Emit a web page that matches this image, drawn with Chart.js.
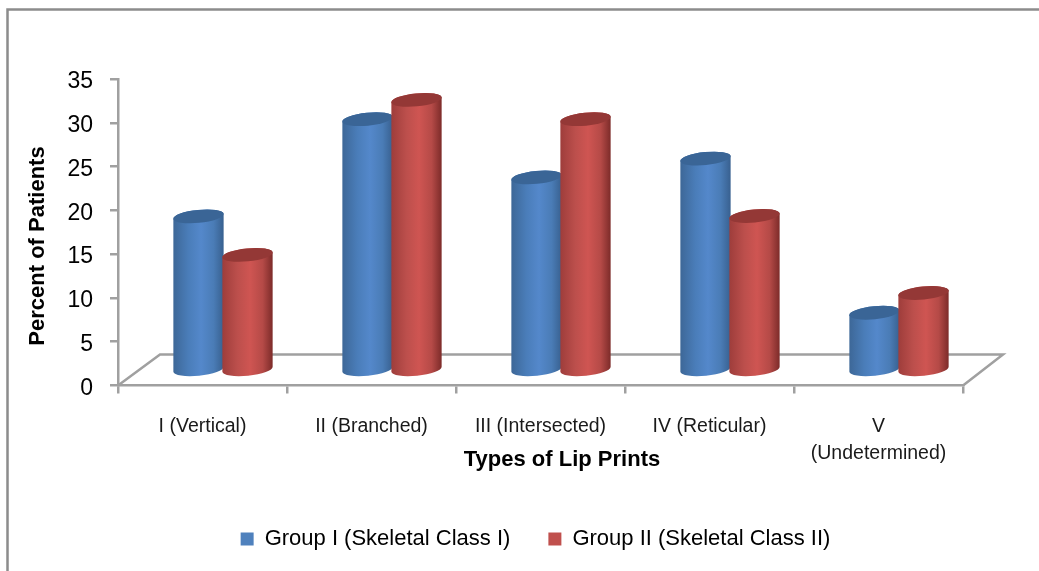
<!DOCTYPE html>
<html>
<head>
<meta charset="utf-8">
<title>Types of Lip Prints</title>
<script src="https://cdn.jsdelivr.net/npm/chart.js@4/dist/chart.umd.min.js"></script>
<style>
  html, body { margin: 0; padding: 0; background: #fff; overflow: hidden; }
  #wrap { width: 1039px; height: 571px; }
</style>
</head>
<body>
<div id="wrap"><canvas id="lipChart" width="1039" height="571"></canvas></div>
<script>
const lipTypes = ['I (Vertical)', 'II (Branched)', 'III (Intersected)', 'IV (Reticular)', ['V', '(Undetermined)']];
const groupOne = [17.6, 28.7, 22.05, 24.2, 6.6];
const groupTwo = [13.2, 30.9, 28.7, 17.65, 8.85];
const yTicks = [0, 5, 10, 15, 20, 25, 30, 35];
const xTitle = 'Types of Lip Prints';
const yTitle = 'Percent of Patients';
const groupNames = ['Group I (Skeletal Class I)', 'Group II (Skeletal Class II)'];

const AXIS_GREY = '#a0a0a0';
const FONT = '"Liberation Sans", Arial, sans-serif';

// how far the floor runs back, and where the columns stand on it
const DEPTH = { x: 42, y: -31 };
const MID = { x: 20.5, y: -15 };

const shades = [
  { stops: ['#3d6797', '#4a7db9', '#5488cb', '#4a7cb6', '#38608f'], top: '#3a6596' },
  { stops: ['#9e3d3b', '#bc4f4c', '#cf5552', '#b54a47', '#7c2b29'], top: '#943836' }
];
const stopAt = [0, 0.3, 0.55, 0.8, 1];

function drawCylinder(ctx, cx, topY, baseY, w, shade) {
  const rx = w / 2, ry = 6.5, tilt = -0.1;
  const g = ctx.createLinearGradient(cx - rx, 0, cx + rx, 0);
  shade.stops.forEach((c, i) => g.addColorStop(stopAt[i], c));

  ctx.beginPath();
  ctx.ellipse(cx, baseY, rx, ry, tilt, 0, Math.PI);
  ctx.ellipse(cx, topY, rx, ry, tilt, Math.PI, Math.PI * 2);
  ctx.closePath();
  ctx.fillStyle = g;
  ctx.fill();

  ctx.beginPath();
  ctx.ellipse(cx, topY, rx, ry, tilt, 0, Math.PI * 2);
  ctx.fillStyle = shade.top;
  ctx.fill();
}

const frameAndFloor = {
  id: 'frameAndFloor',
  afterLayout(chart) {
    // legend sits a bit right of centre, under the plot
    const lg = chart.legend;
    const h = lg.bottom - lg.top;
    lg.left += 54; lg.right += 54;
    lg.top = 490; lg.bottom = lg.top + h;

    // value labels hang slightly below their tick marks
    chart.scales.y.getLabelItems().forEach(item => { item.options.translation[1] += 3; });
  },
  beforeDraw(chart) {
    const ctx = chart.ctx;
    ctx.save();
    ctx.strokeStyle = '#8c8c8c';
    ctx.lineWidth = 2.5;
    ctx.beginPath();
    ctx.moveTo(7.5, 571);
    ctx.lineTo(7.5, 9.5);
    ctx.lineTo(1039, 9.5);
    ctx.stroke();
    ctx.restore();
  },
  beforeDatasetsDraw(chart) {
    const ctx = chart.ctx;
    const x = chart.scales.x, y = chart.scales.y;
    const y0 = y.getPixelForValue(0);

    ctx.save();
    ctx.strokeStyle = AXIS_GREY;
    ctx.lineWidth = 2.5;
    ctx.beginPath();
    ctx.moveTo(x.left, y0);
    ctx.lineTo(x.left + DEPTH.x, y0 + DEPTH.y);
    ctx.lineTo(x.right + DEPTH.x - 2, y0 + DEPTH.y);
    ctx.lineTo(x.right, y0);
    ctx.stroke();

    // red after blue in each category so it overlaps the blue edge
    for (let i = 0; i < lipTypes.length; i++) {
      chart.data.datasets.forEach((ds, d) => {
        const bar = chart.getDatasetMeta(d).data[i];
        drawCylinder(ctx, bar.x + MID.x, bar.y + MID.y, bar.base + MID.y, bar.width + 1.5, shades[d]);
      });
    }
    ctx.restore();
    return false;
  },
  afterDraw(chart) {
    const ctx = chart.ctx;
    ctx.save();
    ctx.fillStyle = '#000';
    ctx.font = 'bold 22px ' + FONT;
    ctx.textAlign = 'center';
    ctx.textBaseline = 'middle';
    ctx.fillText(xTitle, 562, 460);
    ctx.translate(38, 246);
    ctx.rotate(-Math.PI / 2);
    ctx.fillText(yTitle, 0, 0);
    ctx.restore();
  }
};

new Chart(document.getElementById('lipChart'), {
  type: 'bar',
  data: {
    labels: lipTypes,
    datasets: [
      { label: groupNames[0], data: groupOne, backgroundColor: '#4f81bd' },
      { label: groupNames[1], data: groupTwo, backgroundColor: '#c0504d' }
    ]
  },
  options: {
    responsive: false,
    animation: false,
    layout: { padding: { top: 79, left: 0, right: 76, bottom: 12 } },
    datasets: { bar: { barPercentage: 1, categoryPercentage: 0.58 } },
    plugins: {
      tooltip: { enabled: false },
      legend: {
        position: 'bottom',
        labels: {
          boxWidth: 13,
          boxHeight: 13,
          padding: 38,
          color: '#000',
          font: { family: FONT, size: 22 }
        }
      }
    },
    scales: {
      x: {
        type: 'category',
        grid: { drawOnChartArea: false, color: AXIS_GREY, lineWidth: 2.5, tickLength: 8 },
        border: { color: AXIS_GREY, width: 2.5 },
        ticks: {
          autoSkip: false, maxRotation: 0, minRotation: 0,
          padding: 20,
          color: '#1a1a1a',
          font: { family: FONT, size: 19.5, lineHeight: 1.38 }
        },
        afterFit(scale) {
          const lh = scale.chart.legend ? scale.chart.legend.height : 0;
          scale.height = 571 - 385.5 - 12 - lh;
        }
      },
      y: {
        min: 0,
        max: 35,
        afterBuildTicks(scale) { scale.ticks = yTicks.map(v => ({ value: v })); },
        grid: { drawOnChartArea: false, color: AXIS_GREY, lineWidth: 2.5, tickLength: 8 },
        border: { color: AXIS_GREY, width: 2.5 },
        ticks: {
          padding: 17,
          color: '#000',
          font: { family: FONT, size: 23 }
        },
        afterFit(scale) { scale.width = 118; }
      }
    }
  },
  plugins: [frameAndFloor]
});
</script>
</body>
</html>
